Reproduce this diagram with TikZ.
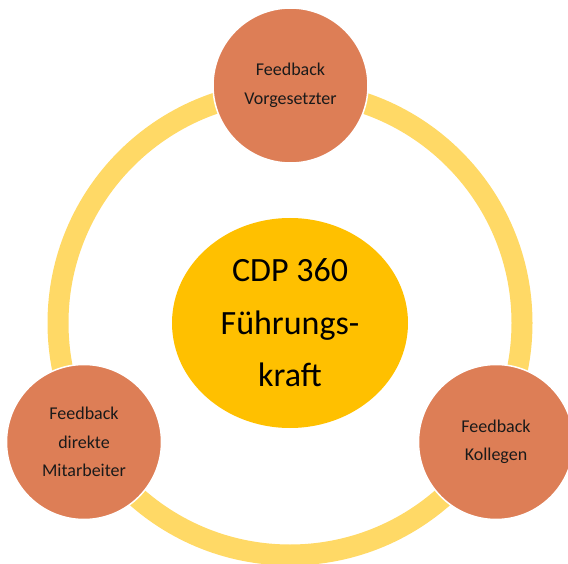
\documentclass[tikz,border=0pt]{standalone}
\usepackage{fontspec}
\setmainfont{Carlito}
\usetikzlibrary{shapes.geometric}
\definecolor{ringyellow}{HTML}{FFD966}
\definecolor{feedorange}{HTML}{DD7E56}
\definecolor{coregold}{HTML}{FFC000}
\definecolor{textdark}{HTML}{1A1A1A}
\tikzset{
  feedcircle/.style={circle, fill=feedorange, draw=white, line width=1.5pt,
    minimum size=155pt, inner sep=0pt, align=center, text=textdark,
    font=\fontsize{18}{28.5}\selectfont},
  corebox/.style={ellipse, fill=coregold, draw=none, minimum width=236pt,
    minimum height=210pt, inner sep=0pt, align=center, text=black,
    font=\fontsize{34}{52.5}\selectfont},
  ringline/.style={draw=ringyellow, line width=21pt}
}
\begin{document}
\begin{tikzpicture}[x=1pt,y=-1pt]
\useasboundingbox (0,0) rectangle (568,564);
\coordinate (ringc) at (290,323);
\draw[ringline] (ringc) circle[radius=232];
\node[feedcircle] (vorg) at (290.5,85.5) {Feedback\\Vorgesetzter};
\node[feedcircle] (mitarb) at (84,442) {Feedback\\direkte\\Mitarbeiter};
\node[feedcircle] (koll) at (496,442) {Feedback\\Kollegen};
\node[corebox] (core) at (290,323) {CDP 360\\Führungs-\\kraft};
\end{tikzpicture}
\end{document}
